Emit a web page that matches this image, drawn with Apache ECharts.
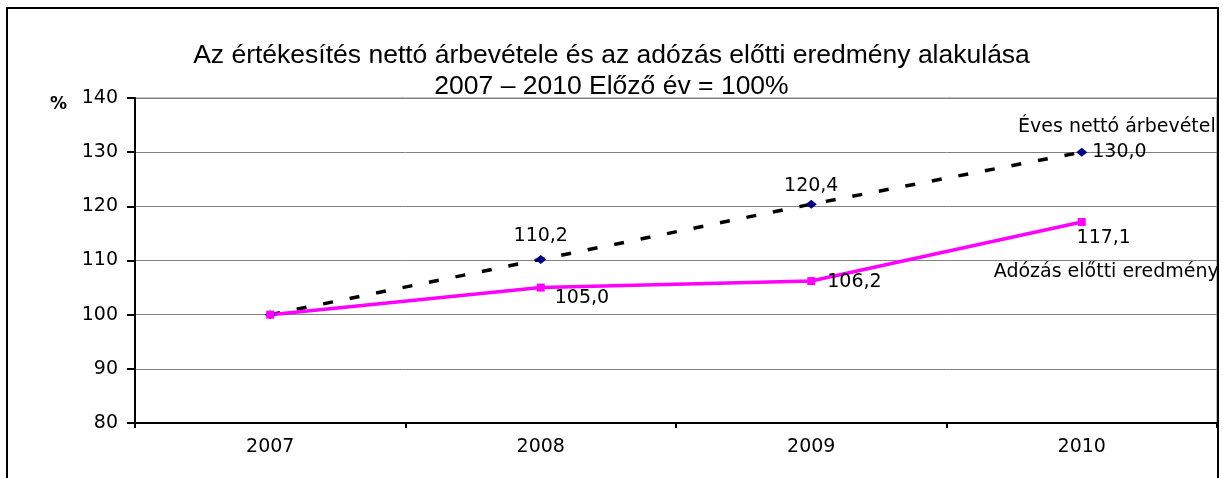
<!DOCTYPE html>
<html>
<head>
<meta charset="utf-8">
<script src="https://cdn.jsdelivr.net/npm/echarts@6/dist/echarts.min.js"></script>
<style>
  html, body { margin: 0; padding: 0; background: #fff; }
  #chart { width: 1223px; height: 478px; }
</style>
</head>
<body>
<div id="chart"></div>
<script>
// adatok
const years = ['2007', '2008', '2009', '2010']
const revenue = [100.0, 110.2, 120.4, 130.0]   // Éves nettó árbevétel
const profit = [100.0, 105.0, 106.2, 117.1]    // Adózás előtti eredmény
const yTicks = { min: 80, max: 140, step: 10 }
const revenueName = 'Éves nettó árbevétel'
const profitName = 'Adózás előtti eredmény'

const smallFont = 'DejaVu Sans'
const smallSize = 19
const fmt = v => v.toFixed(1).replace('.', ',')

// címkék helyzete pontonként (2007-nél nincs címke)
const revLabels = [
  { show: false },
  { position: 'top', offset: [0, -4] },
  { position: 'top', offset: [0, 1] },
  { position: 'right', offset: [0, 0] }
]
const profLabels = [
  { show: false },
  { position: 'right', offset: [5, 10] },
  { position: 'right', offset: [7, 1] },
  { position: 'bottom', offset: [22, -2] }
]

const chart = echarts.init(document.getElementById('chart'))

chart.setOption({
  animation: false,
  textStyle: { fontFamily: smallFont },
  title: {
    text: 'Az értékesítés nettó árbevétele és az adózás előtti eredmény alakulása\n2007 – 2010 Előző év = 100%',
    left: 'center',
    top: 40,
    padding: 0,
    textStyle: {
      fontFamily: 'Liberation Sans',
      fontSize: 26.5,
      fontWeight: 'normal',
      color: '#000',
      lineHeight: 31
    }
  },
  graphic: [
    {
      type: 'rect',
      shape: { x: 7, y: 8, width: 1211, height: 520 },
      style: { fill: 'none', stroke: '#000', lineWidth: 2 },
      z: 10
    },
    {
      type: 'text',
      left: 50,
      top: 96,
      style: { text: '%', fontFamily: smallFont, fontSize: 17, fontWeight: 'bold', fill: '#000' }
    }
  ],
  grid: {
    left: 135,
    right: 6,
    top: 98,
    bottom: 55,
    show: true,
    borderColor: '#808080',
    borderWidth: 1
  },
  xAxis: {
    type: 'category',
    data: years,
    boundaryGap: true,
    axisLine: { lineStyle: { color: '#000', width: 2 } },
    axisTick: { show: true, length: 5, interval: 0, lineStyle: { color: '#000', width: 2 } },
    axisLabel: { color: '#000', fontSize: smallSize, margin: 15, fontFamily: smallFont },
    splitLine: { show: false }
  },
  yAxis: {
    type: 'value',
    min: yTicks.min,
    max: yTicks.max,
    interval: yTicks.step,
    axisLine: { show: true, lineStyle: { color: '#000', width: 2 } },
    axisTick: { show: true, length: 8, lineStyle: { color: '#000', width: 2 } },
    axisLabel: { color: '#000', fontSize: smallSize, margin: 17, fontFamily: smallFont },
    splitLine: { lineStyle: { color: '#808080', width: 1 } }
  },
  series: [
    {
      name: revenueName,
      type: 'line',
      data: revenue.map((v, i) => ({ value: v, label: revLabels[i] })),
      symbol: 'diamond',
      symbolSize: [11, 9],
      lineStyle: { color: '#000', width: 3.5, type: [10, 17] },
      itemStyle: { color: '#000080' },
      label: {
        show: true,
        formatter: p => fmt(p.value),
        color: '#000',
        fontSize: smallSize,
        fontFamily: smallFont
      },
      markPoint: {
        symbol: 'rect',
        symbolSize: 1,
        itemStyle: { color: 'rgba(0,0,0,0)' },
        label: {
          show: true,
          position: 'inside',
          align: 'right',
          verticalAlign: 'middle',
          offset: [134, -25],
          formatter: revenueName,
          color: '#000',
          fontSize: smallSize,
          fontFamily: smallFont
        },
        data: [{ coord: [3, revenue[3]] }]
      }
    },
    {
      name: profitName,
      type: 'line',
      data: profit.map((v, i) => ({ value: v, label: profLabels[i] })),
      symbol: 'rect',
      symbolSize: 8,
      lineStyle: { color: '#ff00ff', width: 3.5 },
      itemStyle: { color: '#ff00ff' },
      label: {
        show: true,
        formatter: p => fmt(p.value),
        color: '#000',
        fontSize: smallSize,
        fontFamily: smallFont
      },
      markPoint: {
        symbol: 'rect',
        symbolSize: 1,
        itemStyle: { color: 'rgba(0,0,0,0)' },
        label: {
          show: true,
          position: 'inside',
          align: 'right',
          verticalAlign: 'middle',
          offset: [137, 50],
          formatter: profitName,
          color: '#000',
          fontSize: smallSize,
          fontFamily: smallFont
        },
        data: [{ coord: [3, profit[3]] }]
      }
    }
  ]
})
</script>
</body>
</html>
